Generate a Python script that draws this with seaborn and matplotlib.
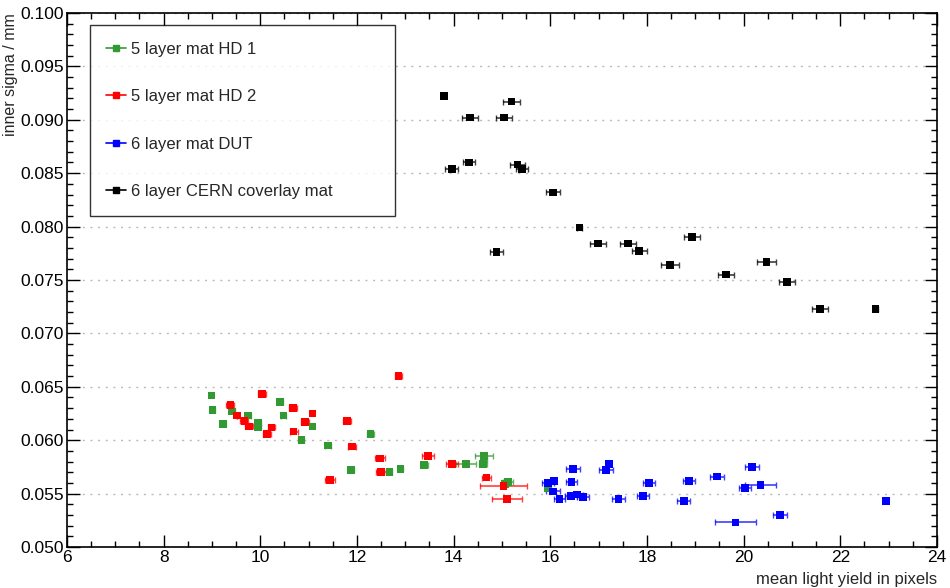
import matplotlib
matplotlib.use("Agg")
import matplotlib.pyplot as plt
from matplotlib.lines import Line2D
from matplotlib.ticker import MultipleLocator, FormatStrFormatter
import numpy as np
import pandas as pd
import seaborn as sns

# Values
hd1_x = [8.99, 9.01, 9.23, 9.42, 9.74, 9.95, 9.95, 10.41, 10.48, 11.08, 10.85, 11.40,
         12.28, 11.88, 12.67, 12.90, 13.39, 14.26, 14.63, 14.62, 14.61, 15.12, 15.06, 15.95]
hd1_y = [0.0642, 0.0628, 0.0615, 0.0627, 0.0623, 0.0616, 0.0612, 0.0636, 0.0623, 0.0613,
         0.0600, 0.0595, 0.0606, 0.0572, 0.0570, 0.0573, 0.0577, 0.0578, 0.0585, 0.0582,
         0.0578, 0.0561, 0.0559, 0.0555]
hd1_xerr = [0.0, 0.06, 0.06, 0.06, 0.06, 0.06, 0.06, 0.05, 0.06, 0.0, 0.06, 0.06,
            0.08, 0.06, 0.06, 0.06, 0.07, 0.21, 0.19, 0.06, 0.08, 0.1, 0.06, 0.06]

hd2_x = [12.86, 10.04, 9.38, 9.52, 9.67, 9.76, 10.23, 10.14, 10.68, 11.08, 10.93, 10.69,
         11.79, 11.90, 11.44, 12.48, 12.50, 13.47, 13.96, 14.68, 15.03, 15.10]
hd2_y = [0.0660, 0.0643, 0.0633, 0.0623, 0.0618, 0.0613, 0.0612, 0.0606, 0.0630, 0.0625,
         0.0617, 0.0608, 0.0618, 0.0594, 0.0563, 0.0583, 0.0570, 0.0585, 0.0578, 0.0565,
         0.0557, 0.0545]
hd2_xerr = [0.07, 0.08, 0.08, 0.0, 0.08, 0.08, 0.08, 0.08, 0.08, 0.0, 0.08, 0.08,
            0.08, 0.08, 0.1, 0.1, 0.1, 0.12, 0.12, 0.1, 0.48, 0.31]

dut_x = [15.95, 16.08, 16.06, 16.19, 16.44, 16.47, 16.43, 16.55, 16.68, 17.15, 17.22,
         17.41, 18.04, 17.92, 18.76, 18.87, 19.45, 19.83, 20.17, 20.03, 20.35, 20.75, 22.94]
dut_y = [0.0560, 0.0562, 0.0552, 0.0545, 0.0561, 0.0573, 0.0548, 0.0549, 0.0547, 0.0572,
         0.0578, 0.0545, 0.0560, 0.0548, 0.0543, 0.0562, 0.0566, 0.0523, 0.0575, 0.0555,
         0.0558, 0.0530, 0.0543]
dut_xerr = [0.12, 0.0, 0.14, 0.12, 0.12, 0.14, 0.12, 0.12, 0.12, 0.14, 0.0,
            0.13, 0.13, 0.12, 0.13, 0.12, 0.14, 0.43, 0.15, 0.13, 0.32, 0.15, 0.05]

cern_x = [13.80, 15.20, 14.34, 15.04, 14.32, 13.96, 15.32, 15.42, 16.06, 16.60, 16.99,
          17.61, 17.84, 14.89, 18.48, 18.93, 19.64, 20.47, 20.90, 21.58, 22.73]
cern_y = [0.0922, 0.0917, 0.0902, 0.0902, 0.0860, 0.0854, 0.0858, 0.0854, 0.0832, 0.0799,
          0.0784, 0.0784, 0.0777, 0.0776, 0.0764, 0.0790, 0.0755, 0.0767, 0.0748, 0.0723,
          0.0723]
cern_xerr = [0.0, 0.18, 0.16, 0.16, 0.13, 0.14, 0.15, 0.12, 0.15, 0.05, 0.16,
             0.16, 0.16, 0.14, 0.18, 0.16, 0.17, 0.2, 0.17, 0.17, 0.05]

labels = ["5 layer mat HD 1", "5 layer mat HD 2", "6 layer mat DUT", "6 layer CERN coverlay mat"]
colors = ["#339933", "#ff0000", "#0000ff", "#000000"]

series = [(hd1_x, hd1_y, hd1_xerr), (hd2_x, hd2_y, hd2_xerr),
          (dut_x, dut_y, dut_xerr), (cern_x, cern_y, cern_xerr)]

frames = []
for lab, (x, y, xe) in zip(labels, series):
    frames.append(pd.DataFrame({"x": x, "y": y, "xerr": xe, "series": lab}))
df = pd.concat(frames, ignore_index=True)

sns.set_style("ticks")
plt.rcParams["font.family"] = ["Liberation Sans", "DejaVu Sans"]

fig = plt.figure(figsize=(9.5, 5.88), dpi=100)
ax = fig.add_axes([0.0705, 0.0697, 0.9158, 0.9083])

# x error bars first, then the square markers on top
for lab, col in zip(labels, colors):
    sub = df[df["series"] == lab]
    ax.errorbar(sub["x"], sub["y"], xerr=sub["xerr"], fmt="none", ecolor=col,
                elinewidth=1.2, capsize=2, capthick=1.0, alpha=0.75, zorder=2)

sns.scatterplot(data=df, x="x", y="y", hue="series", hue_order=labels,
                palette=colors, marker="s", s=30, edgecolor="none", linewidth=0,
                legend=False, ax=ax, zorder=3)

ax.set_xlim(6, 24)
ax.set_ylim(0.050, 0.100)
ax.xaxis.set_major_locator(MultipleLocator(2))
ax.xaxis.set_minor_locator(MultipleLocator(0.5))
ax.yaxis.set_major_locator(MultipleLocator(0.005))
ax.yaxis.set_minor_locator(MultipleLocator(0.001))
ax.yaxis.set_major_formatter(FormatStrFormatter("%.3f"))
ax.tick_params(which="both", direction="in", top=True, right=True, labelsize=12.5,
               colors="black")
ax.tick_params(which="major", length=9, width=1)
ax.tick_params(which="minor", length=4.5, width=1)
ax.tick_params(axis="x", which="major", pad=2)
ax.tick_params(axis="y", which="major", pad=2)
ax.yaxis.grid(True, which="major", linestyle=(0, (1.5, 4)), color="#bbbbbb", linewidth=1)
ax.set_axisbelow(True)
for sp in ax.spines.values():
    sp.set_color("black")
    sp.set_linewidth(1.2)

ax.set_xlabel("mean light yield in pixels", fontsize=12, ha="right")
ax.xaxis.set_label_coords(1.0, -0.047)
ax.set_ylabel("inner sigma / mm", fontsize=11.5, ha="right")
ax.yaxis.set_label_coords(-0.056, 1.0)

handles = [Line2D([0], [0], color=c, marker="s", markersize=4, linewidth=1.2)
           for c in colors]
leg = ax.legend(handles, labels, loc="upper left",
                bbox_to_anchor=(0.026, 0.627, 0.351, 0.3505), mode="expand",
                fontsize=12, frameon=True, fancybox=False, edgecolor="black",
                handlelength=1.2, handletextpad=0.3, labelspacing=1.95,
                borderpad=1.0, borderaxespad=0)
leg.get_frame().set_linewidth(1.0)

fig.savefig("out.png", dpi=100)
